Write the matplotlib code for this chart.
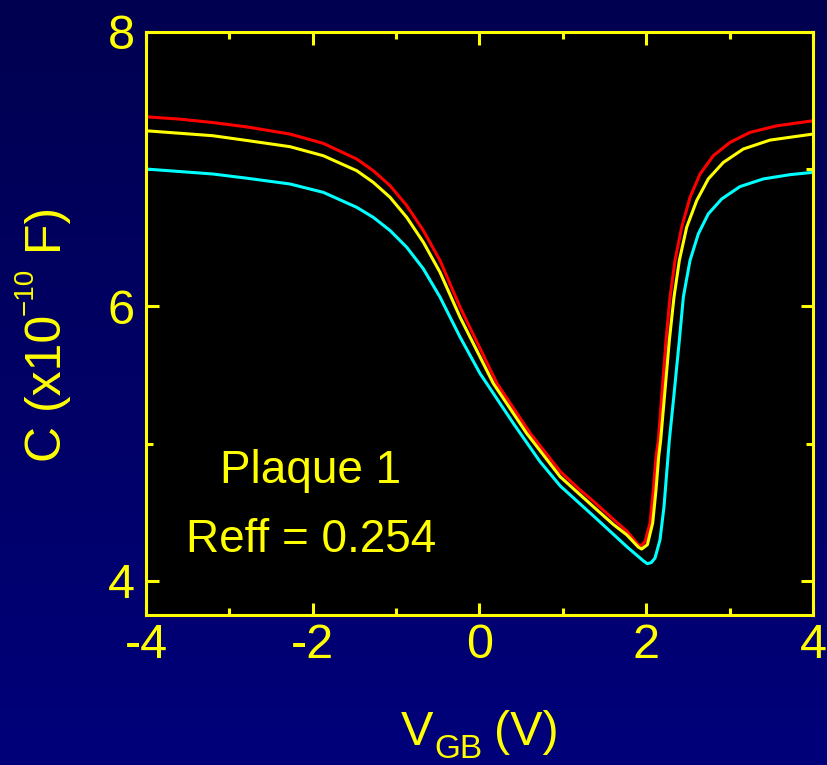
import matplotlib
matplotlib.use("Agg")
import matplotlib.pyplot as plt
import numpy as np
from matplotlib.colors import LinearSegmentedColormap
from matplotlib.ticker import FixedLocator

plt.rcParams["font.family"] = ["Liberation Sans", "DejaVu Sans"]

# C-V curves: gate-to-body voltage (V) vs capacitance (x1e-10 F)
v_red = [-4.0, -3.6, -3.2, -2.8, -2.273, -1.873, -1.473, -1.274, -1.073, -0.873,
         -0.674, -0.474, -0.234, 0.21, 0.61, 0.97, 1.2, 1.37, 1.6, 1.77, 1.905,
         1.945, 1.985, 2.045, 2.085, 2.117, 2.145, 2.185, 2.237, 2.285, 2.345,
         2.425, 2.525, 2.645, 2.804, 3.004, 3.244, 3.565, 4.0]
c_red = [7.382, 7.365, 7.340, 7.309, 7.256, 7.188, 7.074, 6.989, 6.880, 6.735,
         6.553, 6.335, 5.995, 5.438, 5.074, 4.795, 4.665, 4.577, 4.450, 4.360, 4.262,
         4.258, 4.286, 4.420, 4.662, 4.904, 5.025, 5.340, 5.753, 6.068, 6.335,
         6.577, 6.795, 6.965, 7.098, 7.195, 7.268, 7.316, 7.353]

v_yellow = [-4.0, -3.2, -2.8, -2.273, -1.873, -1.473, -1.274, -1.073, -0.873, -0.674,
            -0.474, -0.234, 0.166, 0.566, 0.966, 1.166, 1.365, 1.605, 1.765, 1.905,
            1.945, 2.013, 2.077, 2.117, 2.149, 2.173, 2.218, 2.277, 2.333, 2.397,
            2.485, 2.605, 2.744, 2.924, 3.164, 3.484, 4.0]
c_yellow = [7.280, 7.244, 7.210, 7.164, 7.098, 6.989, 6.904, 6.795, 6.649, 6.468,
            6.249, 5.922, 5.438, 5.074, 4.759, 4.649, 4.540, 4.410, 4.335, 4.245,
            4.231, 4.262, 4.420, 4.662, 4.904, 5.025, 5.340, 5.753, 6.068, 6.335,
            6.577, 6.771, 6.929, 7.049, 7.147, 7.212, 7.256]

v_cyan = [-4.0, -3.2, -2.8, -2.273, -1.873, -1.473, -1.274, -1.073, -0.873, -0.674,
          -0.474, -0.234, 0.006, 0.406, 0.726, 0.97, 1.365, 1.605, 1.765, 1.965,
          2.013, 2.060, 2.105, 2.165, 2.213, 2.245, 2.277, 2.33, 2.397, 2.445,
          2.525, 2.625, 2.744, 2.905, 3.124, 3.404, 3.724, 4.0]
c_cyan = [7.001, 6.965, 6.935, 6.892, 6.831, 6.722, 6.649, 6.553, 6.431, 6.274,
          6.068, 5.777, 5.511, 5.147, 4.868, 4.690, 4.473, 4.339, 4.249, 4.145,
          4.124, 4.132, 4.165, 4.298, 4.540, 4.783, 5.025, 5.340, 5.753, 6.068,
          6.335, 6.529, 6.674, 6.783, 6.873, 6.929, 6.960, 6.977]

x_major = [-4, -2, 0, 2, 4]
x_minor = [-3, -1, 1, 3]
y_major = [4, 6, 8]
y_minor = [5, 7]

YELLOW = "#ffff00"
W, H = 828, 765

fig = plt.figure(figsize=(W / 100, H / 100), dpi=100)

# navy gradient backdrop
bg = fig.add_axes([0, 0, 1, 1], zorder=0)
grad = np.linspace(0, 1, 256)[:, None]
bg.imshow(grad, aspect="auto", origin="upper", extent=[0, 1, 0, 1],
          cmap=LinearSegmentedColormap.from_list("navy", ["#000050", "#00007a"]))
bg.set_axis_off()

ax = fig.add_axes([146 / W, 1 - 615 / H, (813 - 146) / W, (615 - 32) / H], zorder=1)
ax.set_facecolor("black")

ax.plot(v_red, c_red, color="#ff0000", lw=2.2, solid_joinstyle="round")
ax.plot(v_yellow, c_yellow, color=YELLOW, lw=2.2, solid_joinstyle="round")
ax.plot(v_cyan, c_cyan, color="#00ffff", lw=2.2, solid_joinstyle="round")

ax.set_xlim(-4, 4)
ax.set_ylim(3.75, 8)
ax.xaxis.set_major_locator(FixedLocator(x_major))
ax.xaxis.set_minor_locator(FixedLocator(x_minor))
ax.yaxis.set_major_locator(FixedLocator(y_major))
ax.yaxis.set_minor_locator(FixedLocator(y_minor))
ax.set_xticklabels([str(v) for v in x_major])
ax.set_yticklabels([str(v) for v in y_major])

for s in ax.spines.values():
    s.set_color(YELLOW)
    s.set_linewidth(2.2)

ax.tick_params(which="both", direction="in", top=True, right=True,
               color=YELLOW, width=2.2, labelcolor=YELLOW, labelsize=35)
ax.tick_params(which="major", length=9)
ax.tick_params(which="minor", length=5)
ax.tick_params(axis="x", pad=6)
ax.tick_params(axis="y", pad=8)

ax.text((311 - 146) / 667, (615 - 483) / 583, "Plaque 1", transform=ax.transAxes,
        ha="center", va="baseline", color=YELLOW, fontsize=33)
ax.text((311 - 146) / 667, (615 - 552) / 583, "Reff = 0.254", transform=ax.transAxes,
        ha="center", va="baseline", color=YELLOW, fontsize=33)

# x axis title: V with a dropped GB subscript
fig.text(401 / W, 1 - 745 / H, "V", ha="left", va="baseline", color=YELLOW, fontsize=35)
fig.text(434 / W, 1 - 758 / H, "GB", ha="left", va="baseline", color=YELLOW, fontsize=24)
fig.text(494 / W, 1 - 745 / H, "(V)", ha="left", va="baseline", color=YELLOW, fontsize=35)

# y axis title, assembled piece by piece so the exponent can be small
renderer = fig.canvas.get_renderer()
base_x = 61 / W
sup_x = 33 / W
y = 1 - 462 / H
pieces = [("C (x10", base_x, 36), ("\u221210", sup_x, 20), (" F)", base_x, 36)]
for txt, xb, fs in pieces:
    t = fig.text(xb, y, txt, rotation=90, rotation_mode="anchor", ha="left",
                 va="baseline", color=YELLOW, fontsize=fs)
    bb = t.get_window_extent(renderer=renderer)
    y = bb.y1 / H

fig.savefig("out.png", dpi=100)
